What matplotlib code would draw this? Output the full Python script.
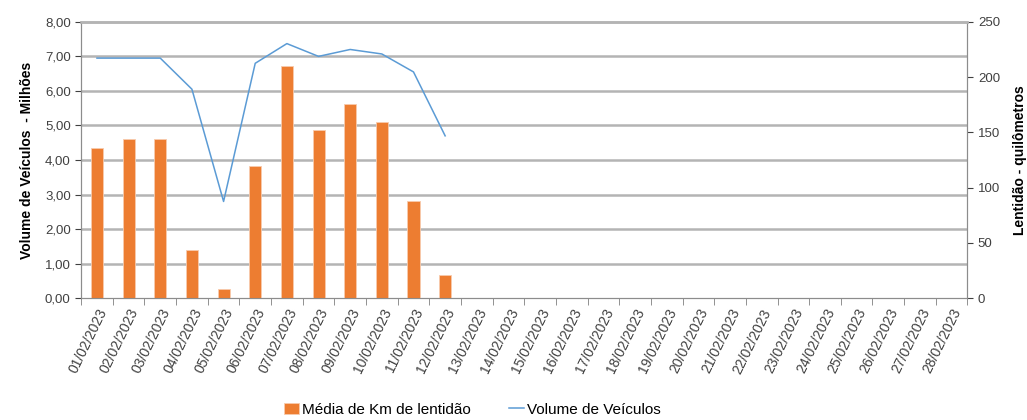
import matplotlib.pyplot as plt
from matplotlib.ticker import MultipleLocator, FuncFormatter

plt.rcParams["font.family"] = ["Liberation Sans", "DejaVu Sans"]

dias = [f"{d:02d}/02/2023" for d in range(1, 29)]
# volume de veículos (milhões), eixo esquerdo
volume = [6.95, 6.95, 6.95, 6.05, 2.80, 6.80, 7.37, 7.00, 7.20, 7.07, 6.55, 4.70]
# média de km de lentidão, eixo direito
lentidao = [136, 144, 144, 44, 8, 120, 210, 152, 176, 159, 88, 21]

fig = plt.figure(figsize=(10.27, 4.2), dpi=100)
ax = fig.add_axes((0.079, 0.29, 0.863, 0.658))
ax2 = ax.twinx()

x = list(range(len(dias)))
bars = ax2.bar(x[: len(lentidao)], lentidao, width=0.38, color="#ed7d31",
               edgecolor="#f8cbad", linewidth=0.6, zorder=3,
               label="Média de Km de lentidão")
(linha,) = ax.plot(x[: len(volume)], volume, color="#5b9bd5", lw=1.1,
                   label="Volume de Veículos")

ax.set_zorder(ax2.get_zorder() + 1)
ax.patch.set_visible(False)

ax.set_xlim(-0.5, len(dias) - 0.5)
ax.set_ylim(0, 8)
ax2.set_ylim(0, 250)

ax.yaxis.set_major_locator(MultipleLocator(1))
ax.yaxis.set_major_formatter(FuncFormatter(lambda v, p: f"{v:.2f}".replace(".", ",")))
ax2.yaxis.set_major_locator(MultipleLocator(50))

# grade horizontal alinhada ao eixo esquerdo, atrás das barras
ax2.yaxis.set_minor_locator(MultipleLocator(250 / 8))
ax2.tick_params(axis="y", which="minor", length=0)
ax2.grid(axis="y", which="minor", color="#b4b4b4", lw=1.8)
ax2.set_axisbelow(True)

ax.set_xticks(x)
ax.set_xticklabels(dias, rotation=64, ha="right", rotation_mode="anchor",
                   fontsize=10, color="#404040")
ax.set_xticks([i - 0.5 for i in range(len(dias) + 1)], minor=True)
ax.tick_params(axis="x", which="major", length=0, pad=6)
ax.tick_params(axis="x", which="minor", length=5, color="#808080")
ax.tick_params(axis="y", labelsize=9.5, colors="#404040", length=4)
ax2.tick_params(axis="y", labelsize=9.5, colors="#404040", length=4)

for a in (ax, ax2):
    for s in ("left", "right", "bottom"):
        a.spines[s].set_color("#8c8c8c")
    a.spines["top"].set_color("#b4b4b4")
    a.spines["top"].set_linewidth(1.8)

ax.set_ylabel("Volume de Veículos  - Milhões", fontsize=10, fontweight="bold",
              labelpad=8)
ax2.set_ylabel("Lentidão - quilômetros", fontsize=10, fontweight="bold",
               labelpad=9)

fig.legend(handles=[bars, linha], loc="lower center", ncol=2, frameon=False,
           fontsize=11, bbox_to_anchor=(0.46, -0.025), handlelength=1.0,
           columnspacing=2.5, handletextpad=0.2)

fig.savefig("out.png", dpi=100)
